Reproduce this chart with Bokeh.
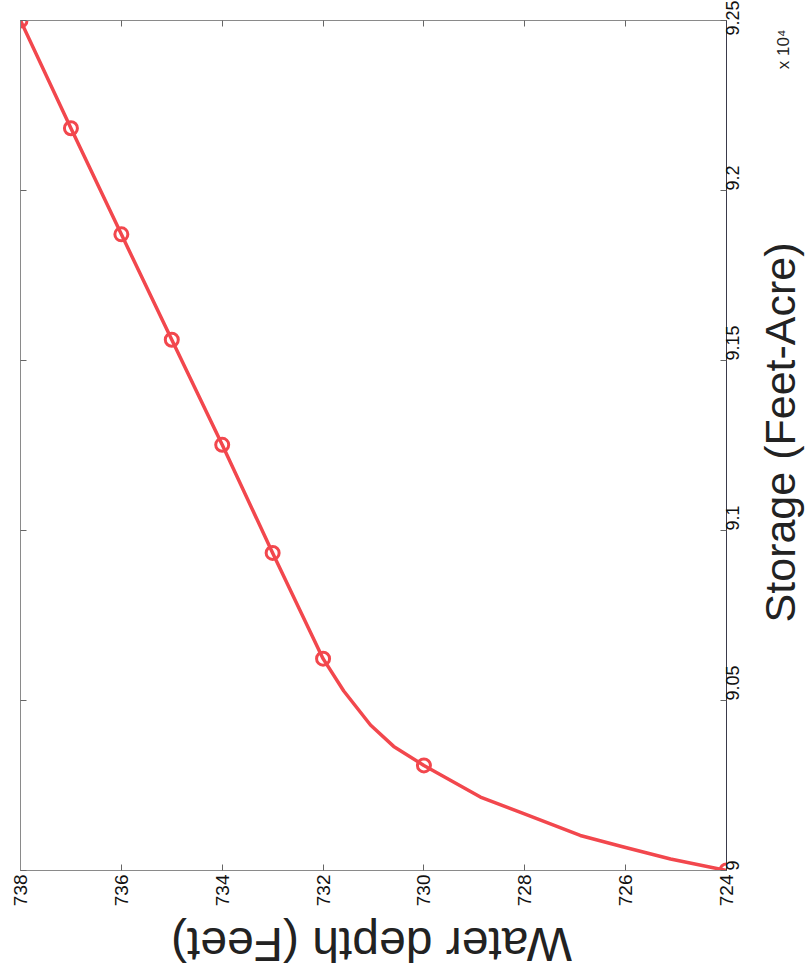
from math import pi
from bokeh.plotting import figure
from bokeh.models import Range1d, FixedTicker, LinearAxis
from bokeh.layouts import column, row
from bokeh.core.properties import value
from bokeh.embed import file_html
from bokeh.resources import INLINE

# ---- data ----
depth_points = [724, 730, 732, 733, 734, 735, 736, 737, 738]
storage_points = [90000, 90309, 90623, 90934, 91252, 91561, 91871, 92183, 92500]

# the drawn (smoothed) curve
depth_curve = [724, 725.11, 726.04, 726.90, 728.02, 728.88, 730, 730.60, 731.06, 731.59,
               732, 733, 734, 735, 736, 737, 738]
storage_curve = [90000, 90034, 90069, 90103, 90167, 90216, 90309, 90365, 90428, 90528,
                 90623, 90934, 91252, 91561, 91871, 92183, 92500]

depth_ticks = [724, 726, 728, 730, 732, 734, 736, 738]
storage_ticks = [90000, 90500, 91000, 91500, 92000, 92500]
storage_tick_labels = ["9", "9.05", "9.1", "9.15", "9.2", "9.25"]

x_label = "Water depth (Feet)"
y_label = "Storage (Feet-Acre)"
exp_label = "x 10\u2074"

RED = "#f2474d"
FONT = "Liberation Sans"
TXT = "#222222"

# ---- main plot ----
p = figure(width=760, height=910, output_backend="svg", toolbar_location=None,
           x_range=Range1d(738, 724), y_range=Range1d(90000, 92500),
           x_axis_location="below", y_axis_location="right",
           min_border_left=20, min_border_right=34, min_border_top=20,
           min_border_bottom=40)
p.grid.visible = False
p.background_fill_color = "white"
p.border_fill_color = "white"
p.outline_line_color = "#8a8a8a"
p.outline_line_width = 1

xa = p.xaxis[0]
xa.ticker = FixedTicker(ticks=depth_ticks)
xa.major_label_orientation = pi / 2
xa.major_tick_in = 6
xa.major_tick_out = 0
xa.minor_tick_line_color = None
xa.axis_line_color = "#8a8a8a"
xa.major_tick_line_color = "#666666"
xa.major_label_text_font = FONT
xa.major_label_text_font_size = "19px"
xa.major_label_text_color = "#111111"
xa.major_label_standoff = 4

ya = p.yaxis[0]
ya.ticker = FixedTicker(ticks=storage_ticks)
ya.major_label_overrides = {t: l for t, l in zip(storage_ticks, storage_tick_labels)}
ya.major_label_orientation = pi / 2
ya.major_tick_in = 6
ya.major_tick_out = 0
ya.minor_tick_line_color = None
ya.axis_line_color = "#3a3a4a"
ya.major_tick_line_color = "#666666"
ya.major_label_text_font = FONT
ya.major_label_text_font_size = "18px"
ya.major_label_text_color = "#111111"
ya.major_label_standoff = 6

# mirrored ticks on the top and left edges (box on)
top = LinearAxis(ticker=FixedTicker(ticks=depth_ticks), major_tick_in=6, major_tick_out=0,
                 minor_tick_line_color=None, axis_line_color="#8a8a8a",
                 major_tick_line_color="#666666", major_label_text_font_size="1px",
                 major_label_text_color=None, major_label_standoff=0)
left = LinearAxis(ticker=FixedTicker(ticks=storage_ticks), major_tick_in=6, major_tick_out=0,
                  minor_tick_line_color=None, axis_line_color="#8a8a8a",
                  major_tick_line_color="#666666", major_label_text_font_size="1px",
                  major_label_text_color=None, major_label_standoff=0)
p.add_layout(top, "above")
p.add_layout(left, "left")

p.line(depth_curve, storage_curve, line_color=RED, line_width=3.5, line_join="round")
p.scatter(depth_points, storage_points, marker="circle", size=13, fill_color=None,
          line_color=RED, line_width=3)


def strip(w, h):
    # plain pixel coordinates, origin at the strip's bottom-left corner
    f = figure(width=w, height=h, output_backend="svg", toolbar_location=None,
               x_range=Range1d(0, w), y_range=Range1d(0, h),
               x_axis_type=None, y_axis_type=None,
               min_border=0, min_border_left=0, min_border_right=0,
               min_border_top=0, min_border_bottom=0)
    f.grid.visible = False
    f.outline_line_color = None
    f.background_fill_color = "white"
    f.border_fill_color = "white"
    return f


# right strip (page x 760..806, page y 0..910): y-axis title and exponent
r = strip(46, 910)
r.text(x=[779 - 760], y=[910 - 441], text=[y_label], angle=pi / 2, text_align="center",
       text_baseline="middle", text_font=value(FONT), text_font_size="43px",
       text_color=TXT)
r.text(x=[783 - 760], y=[910 - 31], text=[exp_label], angle=pi / 2, text_align="center",
       text_baseline="middle", text_font=value(FONT), text_font_size="17px",
       text_color=TXT)

# bottom strip (page y 910..972): x-axis title, upside down
b = strip(806, 62)
b.text(x=[371], y=[972 - 944], text=[x_label], angle=pi, text_align="center",
       text_baseline="middle", text_font=value(FONT), text_font_size="48px",
       text_color=TXT)

layout = column(row(p, r, spacing=0), b, spacing=0)

open("out.html", "w").write(file_html(layout, INLINE))
